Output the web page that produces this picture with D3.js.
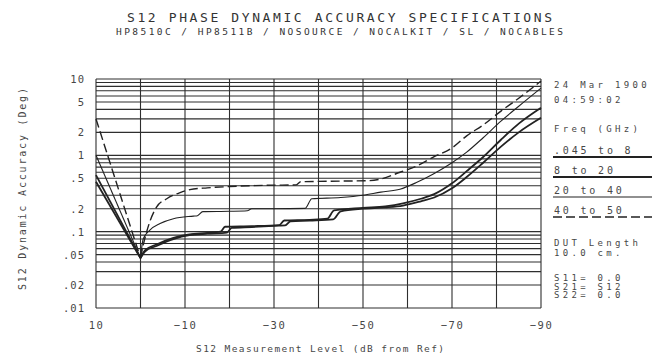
<!DOCTYPE html>
<html>
<head>
<meta charset="utf-8">
<script src="https://cdn.jsdelivr.net/npm/d3@7"></script>
<style>
  body { margin: 0; background: #fff; }
  svg { display: block; font-family: "DejaVu Sans Mono", monospace; }
</style>
</head>
<body>
<div id="main"></div>
<script>
// size of the page and the plot box
const width = 652;
const height = 358;
const plot = { left: 96, right: 541, top: 79, bottom: 308 };

// text
const title = "S12 PHASE DYNAMIC ACCURACY SPECIFICATIONS";
const subtitle = "HP8510C / HP8511B / NOSOURCE / NOCALKIT / SL / NOCABLES";
const xTitle = "S12 Measurement Level (dB from Ref)";
const yTitle = "S12 Dynamic Accuracy (Deg)";

// tick labels
const xTicks = [10, -10, -30, -50, -70, -90];
const yTicks = [10, 5, 2, 1, 0.5, 0.2, 0.1, 0.05, 0.02, 0.01];
const yTickLabels = ["10", "5", "2", "1", ".5", ".2", ".1", ".05", ".02", ".01"];

// frequency bands (legend)
const bands = [".045 to 8", "8 to 20", "20 to 40", "40 to 50"];

// curves: [measurement level dB, accuracy deg]
const band045to8 = [[10, 0.45], [0, 0.045], [-1, 0.055], [-3.6, 0.065], [-7.4, 0.08], [-11, 0.09],
  [-15, 0.094], [-19.4, 0.097], [-20.5, 0.112], [-25, 0.115], [-31, 0.12], [-32.5, 0.121],
  [-33.7, 0.137], [-38, 0.14], [-43.3, 0.145], [-45, 0.185], [-50, 0.2], [-55, 0.208],
  [-59, 0.22], [-63, 0.25], [-66, 0.28], [-70, 0.37], [-73.3, 0.52], [-77, 0.8],
  [-81, 1.3], [-85, 2.0], [-90, 3.1]];
const band8to20 = [[10, 0.55], [0, 0.045], [-1, 0.057], [-3.6, 0.068], [-7.4, 0.083], [-11, 0.092],
  [-15, 0.096], [-18, 0.1], [-19, 0.116], [-25, 0.118], [-31.2, 0.122], [-32.3, 0.14],
  [-38, 0.143], [-42, 0.148], [-43.5, 0.19], [-50, 0.205], [-55, 0.215], [-59, 0.235],
  [-63, 0.27], [-66, 0.31], [-70, 0.43], [-73.3, 0.62], [-77, 0.95], [-81, 1.6],
  [-85, 2.6], [-90, 4.2]];
const band20to40 = [[10, 1.0], [0, 0.045], [-0.6, 0.08], [-2.1, 0.105], [-4.4, 0.128], [-7.4, 0.148],
  [-11.9, 0.16], [-12.8, 0.162], [-14, 0.183], [-20, 0.185], [-24, 0.188], [-25, 0.2],
  [-30, 0.2], [-37, 0.202], [-38.5, 0.27], [-45, 0.28], [-50, 0.3], [-54, 0.33],
  [-58.3, 0.36], [-62, 0.44], [-65.8, 0.57], [-70, 0.8], [-73.3, 1.1], [-77, 1.7],
  [-81, 2.8], [-85, 4.4], [-90, 7.6]];
const band40to50 = [[10, 3.0], [0, 0.045], [-0.6, 0.066], [-1.8, 0.12], [-3.6, 0.21], [-5.9, 0.27],
  [-8.9, 0.325], [-11.1, 0.355], [-15, 0.375], [-20, 0.39], [-28, 0.405], [-35, 0.41],
  [-36, 0.45], [-45, 0.46], [-51, 0.465], [-54, 0.49], [-58.3, 0.6], [-62, 0.72],
  [-65.8, 0.95], [-70, 1.25], [-73.3, 1.8], [-77, 2.5], [-81, 3.8], [-85, 5.6], [-90, 9.4]];
const bandData = [band045to8, band8to20, band20to40, band40to50];

// how each band is drawn
const bandWidth = [1.8, 1.8, 1.1, 1.4];
const bandDash = [null, null, null, "9,4"];

// setup text block on the right
const infoLines = [
  { t: "24 Mar 1900", y: 88 }, { t: "04:59:02", y: 103 }, { t: "Freq (GHz)", y: 132 },
  { t: "DUT Length", y: 245.5 }, { t: "10.0 cm.", y: 256 },
  { t: "S11= 0.0", y: 281 }, { t: "S21= S12", y: 289.5 }, { t: "S22= 0.0", y: 298 }
];
const legendY = [154, 174, 194, 214];

const ink = "#2e2e2e";
const textInk = "#474747";

const svg = d3.select("#main").append("svg")
  .attr("width", width)
  .attr("height", height);

// scales
const x = d3.scaleLinear().domain([10, -90]).range([plot.left, plot.right]);
const y = d3.scaleLog().domain([0.01, 10]).range([plot.bottom, plot.top]);

// grid
const yGrid = [];
[0.01, 0.1, 1].forEach(dec => d3.range(1, 10).forEach(m => yGrid.push(dec * m)));
yGrid.push(10);

svg.append("g").selectAll("line").data(yGrid).enter().append("line")
  .attr("x1", plot.left).attr("x2", plot.right)
  .attr("y1", d => y(d)).attr("y2", d => y(d))
  .attr("stroke", ink).attr("stroke-width", 1.1);

svg.append("g").selectAll("line").data(d3.range(10, -91, -10)).enter().append("line")
  .attr("x1", d => x(d)).attr("x2", d => x(d))
  .attr("y1", plot.top).attr("y2", plot.bottom)
  .attr("stroke", ink).attr("stroke-width", 1.1);

// axes labels
const yAxis = d3.axisLeft(y).tickValues(yTicks)
  .tickFormat((d, i) => yTickLabels[i]).tickSize(0).tickPadding(11);
const gy = svg.append("g").attr("transform", "translate(" + plot.left + ",0)").call(yAxis);
gy.select(".domain").remove();
gy.selectAll("text").attr("font-family", "DejaVu Sans Mono, monospace")
  .attr("font-size", 10.5).attr("fill", textInk).style("letter-spacing", "1px");

const xAxis = d3.axisBottom(x).tickValues(xTicks).tickSize(0).tickPadding(13.5)
  .tickFormat(d3.format("d"));
const gx = svg.append("g").attr("transform", "translate(0," + plot.bottom + ")").call(xAxis);
gx.select(".domain").remove();
gx.selectAll("text").attr("font-family", "DejaVu Sans Mono, monospace")
  .attr("font-size", 10.5).attr("fill", textInk).style("letter-spacing", "1.5px");

// curves: straight fall to 0 dB, smooth afterwards
const lineFall = d3.line().x(d => x(d[0])).y(d => y(d[1]));
const lineRise = d3.line().x(d => x(d[0])).y(d => y(d[1])).curve(d3.curveMonotoneX);

bandData.forEach((pts, i) => {
  const g = svg.append("g").attr("fill", "none").attr("stroke", "#222")
    .attr("stroke-width", bandWidth[i]).attr("stroke-dasharray", bandDash[i]);
  g.append("path").attr("d", lineFall(pts.slice(0, 2)));
  g.append("path").attr("d", lineRise(pts.slice(1)));
});

// titles
svg.append("text").attr("x", 127).attr("y", 22).attr("font-size", 13)
  .attr("textLength", 425).attr("lengthAdjust", "spacing")
  .attr("fill", "#333").text(title);
svg.append("text").attr("x", 116).attr("y", 35).attr("font-size", 9.5)
  .attr("textLength", 447).attr("lengthAdjust", "spacing")
  .attr("fill", "#333").text(subtitle);

svg.append("text").attr("x", 196).attr("y", 352).attr("font-size", 9.5)
  .attr("textLength", 248).attr("lengthAdjust", "spacing")
  .attr("fill", textInk).text(xTitle);

svg.append("text").attr("transform", "translate(26,290) rotate(-90)")
  .attr("font-size", 10).attr("textLength", 202).attr("lengthAdjust", "spacing")
  .attr("fill", textInk).text(yTitle);

// right side notes
svg.append("g").selectAll("text").data(infoLines).enter().append("text")
  .attr("x", 554).attr("y", d => d.y).attr("font-size", 9)
  .attr("fill", textInk).style("letter-spacing", "3.3px").text(d => d.t);

const legend = svg.append("g").selectAll("g").data(bands).enter().append("g")
  .attr("transform", (d, i) => "translate(554," + legendY[i] + ")");
legend.append("text").attr("font-size", 10).attr("fill", textInk)
  .style("letter-spacing", "2.8px").text(d => d);
legend.append("line").attr("x1", -1).attr("x2", 100).attr("y1", 3).attr("y2", 3)
  .attr("stroke", "#222")
  .attr("stroke-width", (d, i) => bandWidth[i])
  .attr("stroke-dasharray", (d, i) => bandDash[i]);
</script>
</body>
</html>
